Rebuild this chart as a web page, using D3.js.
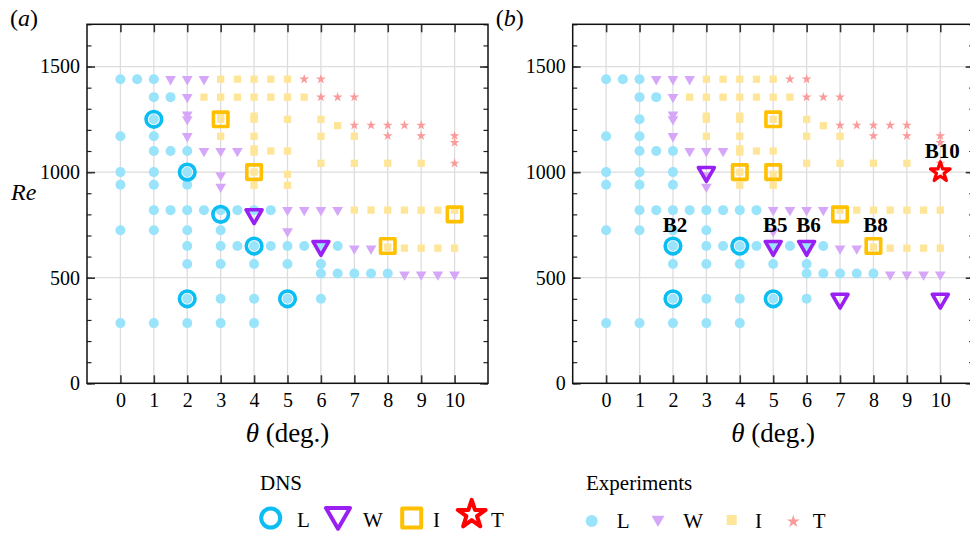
<!DOCTYPE html>
<html><head><meta charset="utf-8">
<script src="https://cdn.jsdelivr.net/npm/d3@7"></script>
<style>
body{margin:0;background:#fff}
svg, svg text{font-family:"Liberation Serif","Tinos","Times New Roman","DejaVu Serif",serif !important}
</style>
</head><body>
<svg id="chart" width="970" height="535"></svg>
<script>
// ---------------- DATA ----------------
const thetaTicks = [0,1,2,3,4,5,6,7,8,9,10];
const reTicks = [0,500,1000,1500];
const reMinorTicks = d3.range(0,1701,100);

// Experiments (same in both panels): [theta, Re]
const expL = [[0,1440],[0.5,1440],[1,1440],
  [1,1355],[1.5,1355],
  [1,1250],
  [0,1170],[1,1170],
  [1,1100],[1.5,1100],[2,1100],
  [0,1000],[1,1000],[2,1000],
  [0,940],[1,940],[2,940],
  [1,820],[1.5,820],[2,820],[2.5,820],[3,820],[3.5,820],[4,820],[4.5,820],
  [0,725],[1,725],[2,725],[3,725],
  [2,650],[3,650],[3.5,650],[4,650],[4.5,650],[5,650],[5.5,650],[6,650],[6.5,650],
  [2,565],[3,565],[4,565],[5,565],[6,565],
  [6,520],[6.5,520],[7,520],[7.5,520],[8,520],
  [2,400],[3,400],[4,400],[5,400],[6,400],
  [0,285],[1,285],[2,285],[3,285],[4,285]];
const expW = [[1.5,1440],[2,1440],[2.5,1440],
  [2,1355],
  [2,1272],[2,1250],
  [2,1170],
  [2.5,1100],[3,1100],[3.5,1100],
  [3,985],[3,930],
  [5,820],[5.5,820],[6,820],[6.5,820],
  [5,720],
  [7,638],[7.5,638],
  [8.5,515],[9,515],[9.5,515],[10,515]];
const expI = [[3,1440],[3.5,1440],[4,1440],[4.5,1440],[5,1440],
  [2.5,1355],[3,1355],[3.5,1355],[4,1355],[4.5,1355],[5,1355],[5.5,1355],
  [3,1265],[3,1250],[4,1265],[4,1250],[5,1250],[6,1250],
  [6.5,1220],
  [3,1170],[4,1170],[6,1170],[7,1170],
  [4,1110],[4,1095],[4.5,1100],[5,1100],
  [6,1042],[7,1042],[8,1042],[9,1042],
  [4,1000],[5,990],
  [4,938],[5,938],
  [7,820],[7.5,820],[8,820],[8.5,820],[9,820],[9.5,820],[10,820],
  [8,645],[8.5,640],[9,640],[9.5,640],[10,640]];
const expT = [[5.5,1440],[6,1440],
  [6,1355],[6.5,1355],[7,1355],
  [7,1222],[7.5,1222],[8,1222],[8.5,1222],[9,1222],
  [8,1172],[9,1172],[10,1172],
  [10,1140],
  [10,1042]];

// DNS, panel (a)
const dnsA_L = [[1,1250],[2,1000],[3,800],[4,650],[2,400],[5,400]];
const dnsA_W = [[4,800],[6,650]];
const dnsA_I = [[3,1250],[4,1000],[10,800],[8,650]];
const dnsA_T = [];
// DNS, panel (b)
const dnsB_L = [[2,650],[4,650],[2,400],[5,400]];
const dnsB_W = [[3,1000],[5,650],[6,650],[7,400],[10,400]];
const dnsB_I = [[5,1250],[4,1000],[5,1000],[7,800],[8,650]];
const dnsB_T = [[10,1000]];
const labelsB = [["B2",2,650],["B5",5,650],["B6",6,650],["B8",8,650],["B10",10,1000]];

const legendNames = ["L","W","I","T"];

// ---------------- STYLE ----------------
const FONT = '"Liberation Serif","Tinos","Times New Roman","DejaVu Serif",serif';
const C = {
  eL:"#99e3fb", eW:"#d6a7f9", eI:"#ffe597", eT:"#fa9a9a",
  dL:"#0abdf3", dW:"#9a1ff2", dI:"#ffc000", dT:"#ff0000",
  grid:"#dddddd"
};
const svg = d3.select("#chart").attr("font-family", FONT);
const plotTop = 24.3, plotBottom = 383.3, pw = 401;

const triUp = s => d3.symbol().type(d3.symbolTriangle).size(s)();
const sq = s => d3.symbol().type(d3.symbolSquare).size(s)();
const star = s => d3.symbol().type(d3.symbolStar).size(s)();

function panel(left, dL, dW, dI, dT, labels, tag) {
  const x = d3.scaleLinear().domain([-1,11]).range([left, left+pw]);
  const y = d3.scaleLinear().domain([0,1700]).range([plotBottom, plotTop]);
  const g = svg.append("g");

  // grid
  g.append("g").selectAll("line").data(thetaTicks).join("line")
    .attr("x1",d=>x(d)).attr("x2",d=>x(d)).attr("y1",plotTop).attr("y2",plotBottom)
    .attr("stroke",C.grid).attr("stroke-width",1.3);
  g.append("g").selectAll("line").data(reTicks.filter(d=>d>0)).join("line")
    .attr("x1",left).attr("x2",left+pw).attr("y1",d=>y(d)).attr("y2",d=>y(d))
    .attr("stroke",C.grid).attr("stroke-width",1.3);

  // experiments
  g.append("g").selectAll("circle").data(expL).join("circle")
    .attr("cx",d=>x(d[0])).attr("cy",d=>y(d[1])).attr("r",5).attr("fill",C.eL);
  g.append("g").selectAll("path").data(expW).join("path")
    .attr("d",triUp(50)).attr("transform",d=>`translate(${x(d[0])},${y(d[1])}) rotate(180)`).attr("fill",C.eW);
  g.append("g").selectAll("path").data(expI).join("path")
    .attr("d",sq(53)).attr("transform",d=>`translate(${x(d[0])},${y(d[1])})`).attr("fill",C.eI);
  g.append("g").selectAll("path").data(expT).join("path")
    .attr("d",star(30)).attr("transform",d=>`translate(${x(d[0])},${y(d[1])})`).attr("fill",C.eT);

  // DNS
  g.append("g").selectAll("circle").data(dL).join("circle")
    .attr("cx",d=>x(d[0])).attr("cy",d=>y(d[1])).attr("r",7.8)
    .attr("fill","none").attr("stroke",C.dL).attr("stroke-width",3.6);
  g.append("g").selectAll("path").data(dW).join("path")
    .attr("d",triUp(110)).attr("transform",d=>`translate(${x(d[0])},${y(d[1])}) rotate(180)`)
    .attr("fill","none").attr("stroke",C.dW).attr("stroke-width",3.6).attr("stroke-linejoin","round");
  g.append("g").selectAll("path").data(dI).join("path")
    .attr("d",sq(210)).attr("transform",d=>`translate(${x(d[0])},${y(d[1])})`)
    .attr("fill","none").attr("stroke",C.dI).attr("stroke-width",3.6).attr("stroke-linejoin","round");
  g.append("g").selectAll("path").data(dT).join("path")
    .attr("d",star(120)).attr("transform",d=>`translate(${x(d[0])},${y(d[1])})`)
    .attr("fill","#fff").attr("stroke",C.dT).attr("stroke-width",3.2).attr("stroke-linejoin","round");

  // labels
  g.append("g").selectAll("text").data(labels).join("text")
    .attr("x",d=>x(d[1])+2).attr("y",d=>y(d[2])-14)
    .attr("text-anchor","middle").attr("font-weight","bold").attr("font-size",21)
    .attr("fill","#000").text(d=>d[0]);

  // axes
  const style = (a, w, col) => { a.attr("font-family", FONT); a.select(".domain").remove();
    a.selectAll(".tick line").attr("stroke",col).attr("stroke-width",w);
    a.selectAll("text").attr("font-family", FONT).attr("font-size",20).attr("fill","#000"); };
  style(g.append("g").attr("transform",`translate(0,${plotBottom})`)
    .call(d3.axisBottom(x).tickValues(thetaTicks).tickSize(-8).tickSizeOuter(0).tickPadding(10).tickFormat(d3.format("d"))), 1.6, "#333");
  style(g.append("g").attr("transform",`translate(0,${plotTop})`)
    .call(d3.axisTop(x).tickValues(thetaTicks).tickSize(-8).tickSizeOuter(0).tickFormat("")), 1.6, "#333");
  style(g.append("g").attr("transform",`translate(${left},0)`)
    .call(d3.axisLeft(y).tickValues(reMinorTicks).tickSize(-4.5).tickSizeOuter(0).tickFormat("")), 1.2, "#222");
  style(g.append("g").attr("transform",`translate(${left},0)`)
    .call(d3.axisLeft(y).tickValues(reTicks).tickSize(-8).tickSizeOuter(0).tickPadding(7).tickFormat(d3.format("d"))), 1.6, "#333");
  style(g.append("g").attr("transform",`translate(${left+pw},0)`)
    .call(d3.axisRight(y).tickValues(reMinorTicks).tickSize(-4.5).tickSizeOuter(0).tickFormat("")), 1.2, "#222");
  style(g.append("g").attr("transform",`translate(${left+pw},0)`)
    .call(d3.axisRight(y).tickValues(reTicks).tickSize(-8).tickSizeOuter(0).tickFormat("")), 1.6, "#333");

  // frame
  g.append("rect").attr("x",left).attr("y",plotTop).attr("width",pw).attr("height",plotBottom-plotTop)
    .attr("fill","none").attr("stroke","#111").attr("stroke-width",1.5);

  // axis titles
  const t = g.append("text").attr("x",x(5)).attr("y",442).attr("text-anchor","middle").attr("font-size",27);
  t.append("tspan").attr("font-style","italic").text("θ");
  t.append("tspan").text(" (deg.)");
  const p = g.append("text").attr("x",left-77).attr("y",26).attr("font-size",24);
  p.append("tspan").text("(");
  p.append("tspan").attr("font-style","italic").text(tag);
  p.append("tspan").text(")");
  return {x,y};
}

panel(87, dnsA_L, dnsA_W, dnsA_I, dnsA_T, [], "a");
panel(572.7, dnsB_L, dnsB_W, dnsB_I, dnsB_T, labelsB, "b");

svg.append("text").attr("x",11).attr("y",200).attr("font-size",24).attr("font-style","italic").text("Re");

// ---------------- LEGENDS ----------------
const lg = svg.append("g");
lg.append("text").attr("x",260).attr("y",490).attr("font-size",21).text("DNS");
const dnsLegX = [270.7, 338, 411.7, 471.7];
const dnsLegTxt = [297, 363, 433, 491];
lg.append("circle").attr("cx",dnsLegX[0]).attr("cy",518).attr("r",9.5)
  .attr("fill","none").attr("stroke",C.dL).attr("stroke-width",4);
lg.append("path").attr("d",triUp(250)).attr("transform",`translate(${dnsLegX[1]},515) rotate(180)`)
  .attr("fill","none").attr("stroke",C.dW).attr("stroke-width",4).attr("stroke-linejoin","round");
lg.append("path").attr("d",sq(361)).attr("transform",`translate(${dnsLegX[2]},518)`)
  .attr("fill","none").attr("stroke",C.dI).attr("stroke-width",4).attr("stroke-linejoin","round");
lg.append("path").attr("d",star(240)).attr("transform",`translate(${dnsLegX[3]},514.5)`)
  .attr("fill","#fff").attr("stroke",C.dT).attr("stroke-width",4).attr("stroke-linejoin","round");
lg.append("g").selectAll("text").data(legendNames).join("text").attr("x",(d,i)=>dnsLegTxt[i]).attr("y",527)
  .attr("font-size",21).text(d=>d);

lg.append("text").attr("x",586).attr("y",490).attr("font-size",21).text("Experiments");
const expLegX = [591.7, 658, 731.7, 793.3];
const expLegTxt = [616.7, 683.3, 755, 812.7];
lg.append("circle").attr("cx",expLegX[0]).attr("cy",521).attr("r",6).attr("fill",C.eL);
lg.append("path").attr("d",triUp(73)).attr("transform",`translate(${expLegX[1]},519.5) rotate(180)`).attr("fill",C.eW);
lg.append("path").attr("d",sq(100)).attr("transform",`translate(${expLegX[2]},520)`).attr("fill",C.eI);
lg.append("path").attr("d",star(52)).attr("transform",`translate(${expLegX[3]},521.5)`).attr("fill",C.eT);
lg.append("g").selectAll("text").data(legendNames).join("text").attr("x",(d,i)=>expLegTxt[i]).attr("y",528)
  .attr("font-size",21).text(d=>d);
</script>
</body></html>
